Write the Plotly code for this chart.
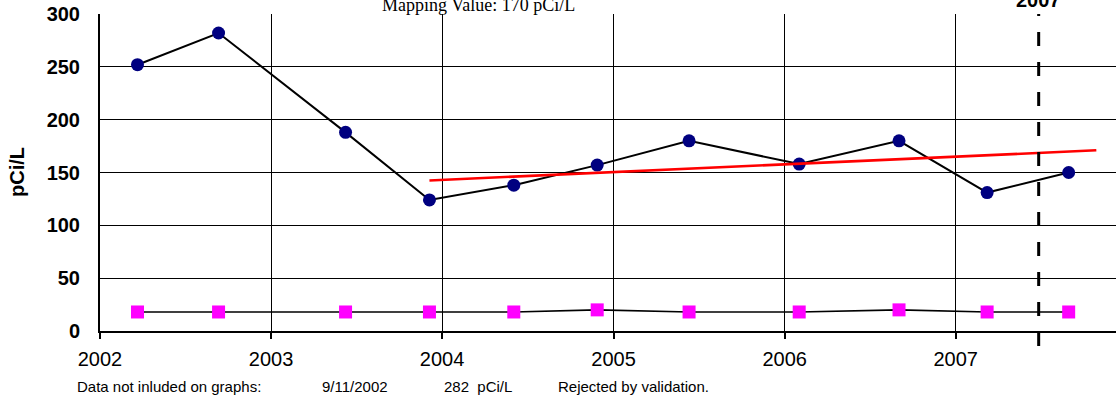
import plotly.graph_objects as go

# ---- data ----
sample_dates = ['2002-03-22', '2002-09-11', '2003-06-09', '2003-12-05', '2004-06-02',
                '2004-11-27', '2005-06-11', '2006-02-01', '2006-09-02', '2007-03-09',
                '2007-08-30']
radon_values = [252, 282, 188, 124, 138, 157, 180, 158, 180, 131, 150]
uncertainty_values = [18, 18, 18, 18, 18, 20, 18, 18, 20, 18, 18]

trend_dates = ['2003-12-05', '2007-10-28']
trend_values = [142.5, 171]

marker_date = '2007-06-27'
marker_label = '2007'

title_text = 'Mapping Value: 170 pCi/L'
y_title = 'pCi/L'
y_ticks = [0, 50, 100, 150, 200, 250, 300]
x_range = ['2002-01-01', '2007-12-09']

footnote_texts = ['Data not inluded on graphs:', '9/11/2002', '282  pCi/L',
                  'Rejected by validation.']
footnote_px = [75, 320, 442, 556]

# ---- figure ----
W, H = 1116, 399
PLOT_L, PLOT_T, PLOT_B, PLOT_R = 100, 14, 331, 1116   # screen pixels of plot area
ML, MT, MB, MR = PLOT_L, PLOT_T, H - PLOT_B, W - PLOT_R
PW, PH = PLOT_R - PLOT_L, PLOT_B - PLOT_T


def px2paper_x(px):
    return (px - PLOT_L) / PW


def py2paper_y(py):
    return (PLOT_B - py) / PH


fig = go.Figure()

fig.add_trace(go.Scatter(
    x=sample_dates, y=uncertainty_values, mode='lines+markers',
    line=dict(color='black', width=1.6),
    marker=dict(symbol='square', size=13, color='#FF00FF'),
    showlegend=False, cliponaxis=False))

fig.add_trace(go.Scatter(
    x=sample_dates, y=radon_values, mode='lines+markers',
    line=dict(color='black', width=2),
    marker=dict(symbol='circle', size=13, color='#000080'),
    showlegend=False, cliponaxis=False))

fig.add_trace(go.Scatter(
    x=trend_dates, y=trend_values, mode='lines',
    line=dict(color='#FF0000', width=2.6),
    showlegend=False))

# dashed vertical marker line
fig.add_shape(type='line', xref='x', yref='paper', x0=marker_date, x1=marker_date,
              y0=py2paper_y(346), y1=1, line=dict(color='black', width=3, dash='14px,16px'))

fig.add_annotation(x=marker_date, y=py2paper_y(13), xref='x', yref='paper',
                   text=marker_label, showarrow=False, xanchor='center', yanchor='bottom',
                   font=dict(family='Liberation Sans, Arial', size=20, color='black',
                             weight='bold'))

fig.add_annotation(x=px2paper_x(478), y=py2paper_y(17), xref='paper', yref='paper',
                   text=title_text, showarrow=False, xanchor='center', yanchor='bottom',
                   font=dict(family='Liberation Serif, Times New Roman', size=18,
                             color='black'))

fig.add_annotation(x=px2paper_x(17), y=py2paper_y(172), xref='paper', yref='paper',
                   text=y_title, showarrow=False, textangle=-90,
                   xanchor='center', yanchor='middle',
                   font=dict(family='Liberation Sans, Arial', size=20, color='black',
                             weight='bold'))

for t, px in zip(footnote_texts, footnote_px):
    fig.add_annotation(x=px2paper_x(px), y=py2paper_y(386), xref='paper', yref='paper',
                       text=t, showarrow=False, xanchor='left', yanchor='middle',
                       font=dict(family='Liberation Sans, Arial', size=15, color='black'))

fig.update_layout(
    width=W, height=H,
    margin=dict(l=ML, r=MR, t=MT, b=MB, pad=0),
    paper_bgcolor='white', plot_bgcolor='white',
    xaxis=dict(type='date', range=x_range, dtick='M12', tick0='2002-01-01',
               tickformat='%Y', showgrid=True, gridcolor='black', gridwidth=1.3,
               ticks='outside', ticklen=6, tickwidth=1.5, tickcolor='black',
               ticklabelstandoff=3, ticklabeloverflow='allow',
               showline=True, linecolor='black', linewidth=2, zeroline=False,
               tickfont=dict(family='Liberation Sans, Arial', size=20, color='black')),
    yaxis=dict(range=[0, 300], tickvals=y_ticks, showgrid=True, gridcolor='black',
               gridwidth=1.3, showline=True, linecolor='black', linewidth=2,
               zeroline=False, ticks='', ticklabelstandoff=14, ticklabeloverflow='allow',
               tickfont=dict(family='Liberation Sans, Arial', size=20, color='black',
                             weight='bold')),
)

# remove the browser's default 8px page margin so the figure fills the window
fig.write_html('out.html', config={'displayModeBar': False},
               post_script="document.body.style.margin='0px';")
